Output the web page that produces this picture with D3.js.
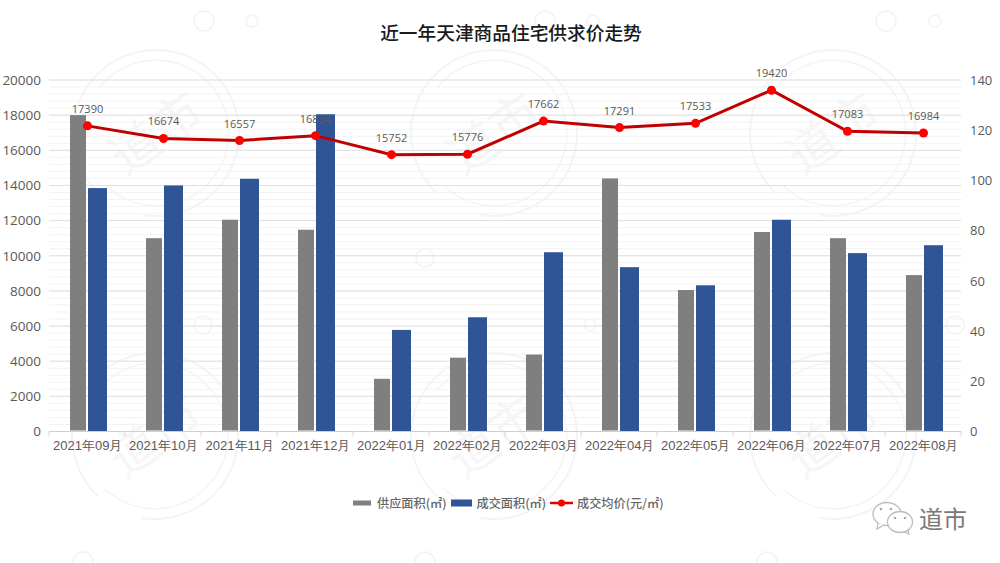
<!DOCTYPE html>
<html>
<head>
<meta charset="utf-8">
<script src="https://cdnjs.cloudflare.com/ajax/libs/d3/7.8.5/d3.min.js"></script>
<style>
	html, body { margin: 0; padding: 0; background: #fff; }
	svg { display: block; font-family: "Noto Sans CJK SC", "Open Sans", sans-serif; }
</style>
</head>
<body>
<div id="chart"></div>
<script>
/* Data */
var months = ['2021年09月', '2021年10月', '2021年11月', '2021年12月', '2022年01月', '2022年02月',
	'2022年03月', '2022年04月', '2022年05月', '2022年06月', '2022年07月', '2022年08月'];
var supplyArea = [18000, 11000, 12050, 11480, 3000, 4200, 4380, 14400, 8050, 11350, 11000, 8900];
var dealArea = [13850, 14000, 14380, 18050, 5780, 6500, 10200, 9350, 8320, 12050, 10150, 10600];
var dealPrice = [17390, 16674, 16557, 16834, 15752, 15776, 17662, 17291, 17533, 19420, 17083, 16984];
var leftTicks = [0, 2000, 4000, 6000, 8000, 10000, 12000, 14000, 16000, 18000, 20000];
var rightTicks = [0, 20, 40, 60, 80, 100, 120, 140];
var legendNames = ['供应面积(㎡)', '成交面积(㎡)', '成交均价(元/㎡)'];

// Faint watermark stamps, in page pixels
var stampCenters = [[156, 133], [494, 133], [833, 133], [155, 436], [494, 436], [833, 436]];
var dotCircles = [[204, 21, 10], [252, 21, 6], [545, 21, 10], [593, 21, 6], [886, 21, 10], [935, 21, 6],
	[80, 258, 9], [425, 258, 9], [203, 325, 9], [590, 325, 6], [955, 325, 9],
	[83, 562, 10], [425, 562, 10], [767, 562, 10]];

/* Layout */
var width = 1000, height = 563;
var plot = { left: 49, right: 961, top: 80, bottom: 431.5 };

var svg = d3.select('#chart').append('svg')
	.attr('width', width)
	.attr('height', height);

/* Scales */
var x = d3.scaleBand().domain(months).range([plot.left, plot.right]);
var yLeft = d3.scaleLinear().domain([0, 20000]).range([plot.bottom, plot.top]);
var yRight = d3.scaleLinear().domain([0, 140]).range([plot.bottom, plot.top]);

/* Watermark */
var mark = svg.append('g').attr('class', 'watermark');
var ring = d3.arc();
stampCenters.forEach(function(c) {
	var stamp = mark.append('g').attr('transform', 'translate(' + c[0] + ',' + c[1] + ')');
	// Outer ring open at the lower left, inner ring open at the left
	stamp.append('path')
		.attr('d', ring({ innerRadius: 82, outerRadius: 84, startAngle: 3.9, endAngle: 2 * Math.PI + 3.3 }))
		.attr('fill', '#f4f4f4');
	stamp.append('path')
		.attr('d', ring({ innerRadius: 72, outerRadius: 73.5, startAngle: -0.9, endAngle: 3.9 }))
		.attr('fill', '#f4f4f4');
	stamp.append('text')
		.attr('text-anchor', 'middle')
		.attr('y', 18)
		.attr('transform', 'rotate(-35)')
		.attr('font-size', 50)
		.attr('fill', '#f6f6f6')
		.text('道市');
});
dotCircles.forEach(function(c) {
	mark.append('circle')
		.attr('cx', c[0]).attr('cy', c[1]).attr('r', c[2])
		.attr('fill', 'none')
		.attr('stroke', '#f3f3f3')
		.attr('stroke-width', 1.5);
});

/* Grid */
var minorTicks = d3.range(0, 20001, 400);
svg.append('g').selectAll('line').data(minorTicks).enter().append('line')
	.attr('x1', plot.left).attr('x2', plot.right)
	.attr('y1', function(d) { return yLeft(d); })
	.attr('y2', function(d) { return yLeft(d); })
	.attr('stroke', '#f3f3f3')
	.attr('stroke-width', 1);
svg.append('g').selectAll('line').data(leftTicks.slice(1)).enter().append('line')
	.attr('x1', plot.left).attr('x2', plot.right)
	.attr('y1', function(d) { return yLeft(d); })
	.attr('y2', function(d) { return yLeft(d); })
	.attr('stroke', '#e0e0e0')
	.attr('stroke-width', 1);

/* Bars */
var bars = svg.append('g');
bars.selectAll('rect.supply').data(supplyArea).enter().append('rect')
	.attr('class', 'supply')
	.attr('x', function(d, i) { return x(months[i]) + 21; })
	.attr('width', 16)
	.attr('y', function(d) { return yLeft(d); })
	.attr('height', function(d) { return yLeft(0) - yLeft(d) - 1; })
	.attr('fill', '#7f7f7f');
bars.selectAll('rect.deal').data(dealArea).enter().append('rect')
	.attr('class', 'deal')
	.attr('x', function(d, i) { return x(months[i]) + 39; })
	.attr('width', 19)
	.attr('y', function(d) { return yLeft(d); })
	.attr('height', function(d) { return yLeft(0) - yLeft(d); })
	.attr('fill', '#2f5597');

/* Axes */
var axisBottom = svg.append('g')
	.attr('transform', 'translate(0,' + plot.bottom + ')')
	.call(d3.axisBottom(x).tickSize(0).tickPadding(9));
axisBottom.select('.domain').attr('stroke', '#cfcfcf').attr('d', 'M' + plot.left + ',0H' + plot.right);
axisBottom.selectAll('text').attr('font-size', 13).attr('fill', '#595959').attr('font-family', 'inherit').attr('dx', 0.8);
axisBottom.selectAll('.boundary').data(d3.range(months.length + 1)).enter().append('line')
	.attr('class', 'boundary')
	.attr('x1', function(d) { return plot.left + d * x.step(); })
	.attr('x2', function(d) { return plot.left + d * x.step(); })
	.attr('y1', 0).attr('y2', 5)
	.attr('stroke', '#d4d4d4');

var axisLeft = svg.append('g')
	.attr('transform', 'translate(' + plot.left + ',0)')
	.call(d3.axisLeft(yLeft).tickValues(leftTicks).tickSize(0).tickPadding(8).tickFormat(d3.format('d')));
axisLeft.select('.domain').remove();
axisLeft.selectAll('text').attr('font-size', 13.5).attr('fill', '#595959').attr('font-family', 'Open Sans');

var axisRight = svg.append('g')
	.attr('transform', 'translate(' + plot.right + ',0)')
	.call(d3.axisRight(yRight).tickValues(rightTicks).tickSize(0).tickPadding(9));
axisRight.select('.domain').remove();
axisRight.selectAll('text').attr('font-size', 13).attr('fill', '#595959').attr('font-family', 'Open Sans');

/* Price line */
var priceLine = d3.line()
	.x(function(d, i) { return x(months[i]) + x.bandwidth() / 2 + 0.5; })
	.y(function(d) { return yLeft(d); });
svg.append('path')
	.attr('d', priceLine(dealPrice))
	.attr('fill', 'none')
	.attr('stroke', '#c00000')
	.attr('stroke-width', 3);
svg.append('g').selectAll('circle').data(dealPrice).enter().append('circle')
	.attr('cx', function(d, i) { return x(months[i]) + x.bandwidth() / 2 + 0.5; })
	.attr('cy', function(d) { return yLeft(d); })
	.attr('r', 4.5)
	.attr('fill', '#ff0000');
svg.append('g').selectAll('text').data(dealPrice).enter().append('text')
	.attr('x', function(d, i) { return x(months[i]) + x.bandwidth() / 2 + 0.5; })
	.attr('y', function(d) { return yLeft(d) - 13; })
	.attr('text-anchor', 'middle')
	.attr('font-size', 11)
	.attr('font-family', 'Open Sans')
	.attr('fill', '#595959')
	.text(function(d) { return d; });

/* Title */
svg.append('text')
	.attr('x', 511).attr('y', 39.5)
	.attr('text-anchor', 'middle')
	.attr('font-size', 18.7)
	.attr('font-weight', 500)
	.attr('fill', '#1a1a1a')
	.text('近一年天津商品住宅供求价走势');

/* Legend */
var legend = svg.append('g');
var legendText = [377, 476.5, 577];
legend.append('rect').attr('x', 353).attr('y', 500.5).attr('width', 18).attr('height', 5).attr('fill', '#7f7f7f');
legend.append('rect').attr('x', 451).attr('y', 499.5).attr('width', 21).attr('height', 7).attr('fill', '#2f5597');
legend.append('line').attr('x1', 550).attr('x2', 573).attr('y1', 503).attr('y2', 503)
	.attr('stroke', '#e00000').attr('stroke-width', 2.5);
legend.append('circle').attr('cx', 561.5).attr('cy', 503).attr('r', 3.5).attr('fill', '#ff0000');
legendNames.forEach(function(name, i) {
	legend.append('text')
		.attr('x', legendText[i]).attr('y', 508)
		.attr('font-size', 12.2)
		.attr('font-weight', 500)
		.attr('fill', '#666')
		.text(name);
});

/* Logo */
var logo = svg.append('g').attr('fill', '#fff').attr('stroke', '#bdbdbd').attr('stroke-width', 1.3);
logo.append('ellipse').attr('cx', 887).attr('cy', 514).attr('rx', 14).attr('ry', 11.5);
logo.append('path').attr('d', 'M878,523L877,529L884,525');
logo.append('ellipse').attr('cx', 900).attr('cy', 522).attr('rx', 12.5).attr('ry', 10.5);
logo.append('path').attr('d', 'M904,532L909,534L908,529').attr('fill', 'none');
[[881, 509], [891, 509], [895, 518], [905, 518]].forEach(function(p) {
	svg.append('circle').attr('cx', p[0]).attr('cy', p[1]).attr('r', 1.3).attr('fill', '#aaa');
});
svg.append('text')
	.attr('x', 919).attr('y', 528)
	.attr('font-size', 24)
	.attr('fill', '#7a7a7a')
	.text('道市');
</script>
</body>
</html>
